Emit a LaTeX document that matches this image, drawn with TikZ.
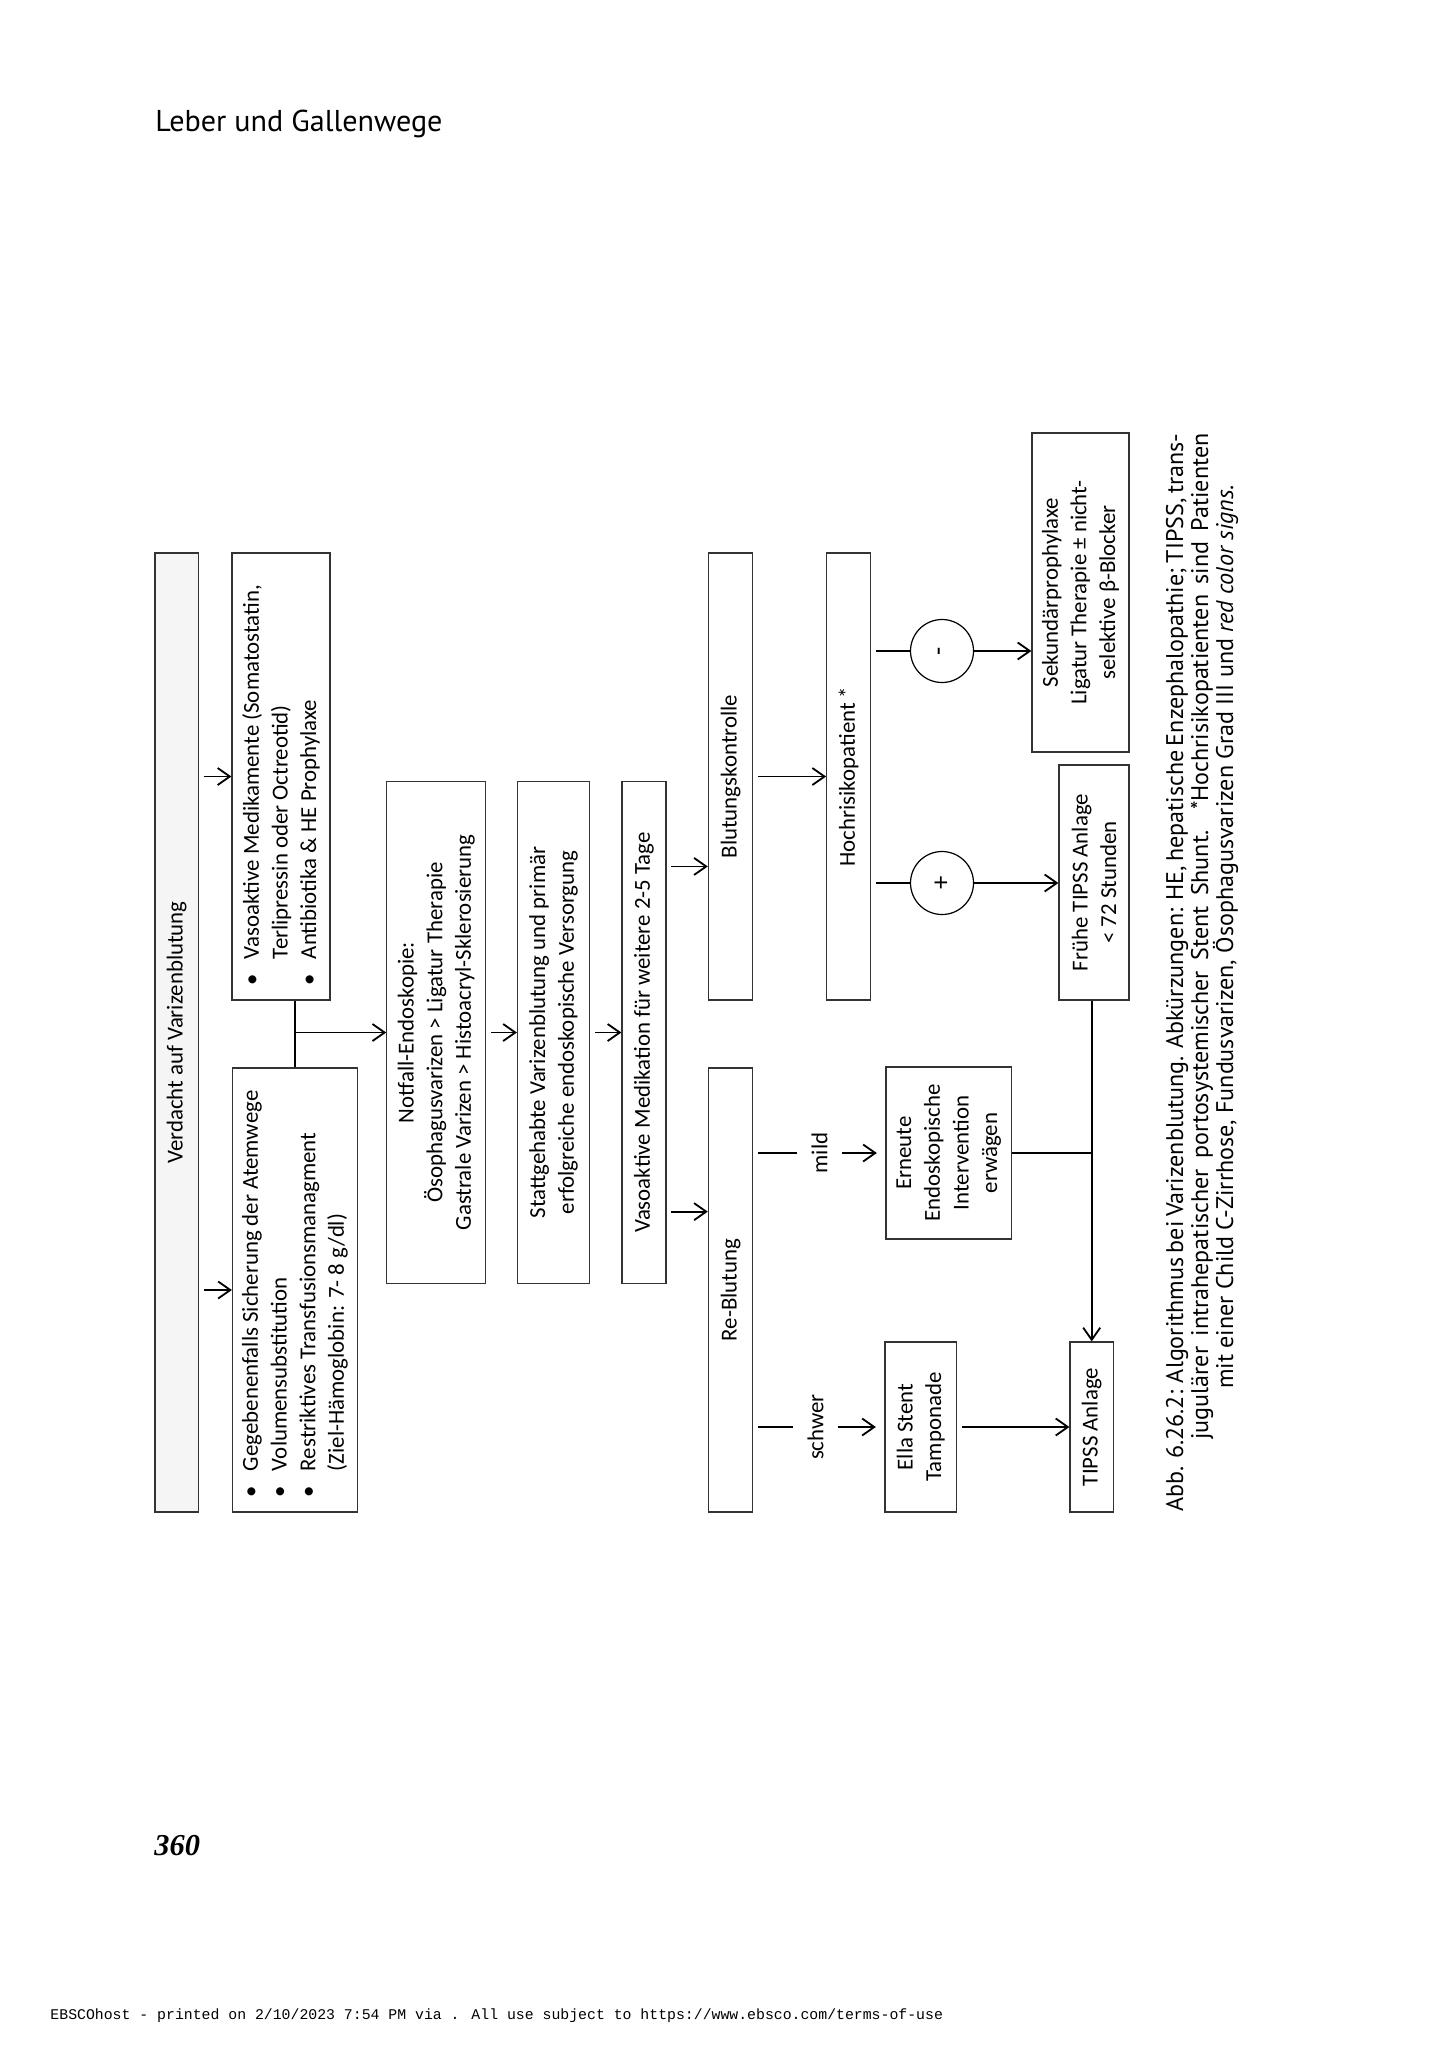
\documentclass[tikz,border=0pt]{standalone}
\usepackage{fontspec}
\usetikzlibrary{arrows.meta,calc}
\newfontfamily\diafont{Carlito}
\newfontfamily\headfont{PT Sans}
\newfontfamily\footfont{Liberation Mono}
\newfontfamily\pgfont{Liberation Serif}
\newlength\dpx
\setlength\dpx{0.4115pt}
\newcommand\bitem[1]{\makebox[26\dpx][l]{\textbullet}\mbox{#1}}
\newcommand\bcont[1]{\hspace*{26\dpx}\mbox{#1}}

\begin{document}
\begin{tikzpicture}[x=0.4115pt, y=-0.4115pt,
    box/.style={draw=black!80, line width=0.5pt, inner sep=0pt, align=center,
      font=\diafont\fontsize{9.4}{11.8}\selectfont},
    blist/.style={box, align=flush left, inner xsep=15\dpx},
    circ/.style={draw, circle, line width=0.5pt, inner sep=0pt, minimum size=63\dpx,
      font=\diafont\fontsize{11}{13}\selectfont},
    lbl/.style={inner xsep=0pt, inner ysep=14\dpx, font=\diafont\fontsize{9.4}{11.8}\selectfont},
    capt/.style={inner sep=0pt, font=\headfont\fontsize{9.9}{12}\selectfont},
    line/.style={line width=0.75pt},
    gap/.style={shorten <=2pt},
    arr/.style={line, -{Straight Barb[length=5pt,width=7pt]}}]
  \path[fill=white] (0,0) rectangle (1452,2050);
  \node[anchor=base west, inner sep=0pt, font=\headfont\fontsize{12.4}{15}\selectfont] (kopf) at (155,131.7) {Leber und Gallenwege};
  \node[anchor=base west, inner sep=0pt, font=\pgfont\bfseries\itshape\fontsize{12.5}{15}\selectfont] (seite) at (154,1855) {360};
  \node[anchor=base west, inner sep=0pt, font=\footfont\fontsize{6.1}{7}\selectfont] (fuss) at (50,2019) {EBSCOhost - printed on 2/10/2023 7:54 PM via . All use subject to https://www.ebsco.com/terms-of-use};

  \begin{scope}[shift={(155,1512)}, rotate=90, transform shape]
    \node[box, fill=black!4, minimum width=959\dpx, minimum height=43.5\dpx] (verdacht) at (479.5,21.75) {Verdacht auf Varizenblutung};
    \node[blist, text width=414\dpx, minimum width=444\dpx, minimum height=125\dpx] (gege) at (222,140) {\bitem{Gegebenenfalls Sicherung der Atemwege}\\ \bitem{Volumensubstitution}\\ \bitem{Restriktives Transfusionsmanagment}\\ \bcont{(Ziel-Hämoglobin: 7- 8 g/dl)}};
    \node[blist, text width=417\dpx, minimum width=447\dpx, minimum height=98\dpx] (vaso) at (735.5,126) {\bitem{Vasoaktive Medikamente (Somatostatin,}\\ \bcont{Terlipressin oder Octreotid)}\\ \bitem{Antibiotika \& HE Prophylaxe}};
    \node[box, minimum width=502\dpx, minimum height=99\dpx] (notfall) at (479.5,281.3) {Notfall-Endoskopie:\\ Ösophagusvarizen > Ligatur Therapie\\ Gastrale Varizen > Histoacryl-Sklerosierung};
    \node[box, minimum width=502\dpx, minimum height=72\dpx] (statt) at (479.5,398.5) {Stattgehabte Varizenblutung und primär\\ erfolgreiche endoskopische Versorgung};
    \node[box, minimum width=502\dpx, minimum height=44\dpx] (vasomed) at (479.5,489) {Vasoaktive Medikation für weitere 2-5 Tage};
    \node[box, minimum width=447\dpx, minimum height=44.4\dpx] (blutk) at (735.5,575.6) {Blutungskontrolle};
    \node[box, minimum width=444\dpx, minimum height=44.4\dpx] (reblut) at (222,575.6) {Re-Blutung};
    \node[box, minimum width=447\dpx, minimum height=44\dpx] (hochr) at (735.5,693.7) {Hochrisikopatient *};
    \node[circ] (minus) at (861,787) {-};
    \node[circ] (plus) at (629,787) {+};
    \node[box, minimum width=319\dpx, minimum height=97\dpx] (sek) at (919.5,925.5) {Sekundärprophylaxe\\ Ligatur Therapie ± nicht-\\ selektive β-Blocker};
    \node[box, minimum width=235\dpx, minimum height=70\dpx] (frueh) at (629.5,939) {Frühe TIPSS Anlage\\ < 72 Stunden};
    \node[box, minimum width=170\dpx, minimum height=43.3\dpx] (tipss) at (85,936.7) {TIPSS Anlage};
    \node[box, minimum width=170\dpx, minimum height=71.7\dpx] (ella) at (85,765.8) {Ella Stent\\ Tamponade};
    \node[box, minimum width=172\dpx, minimum height=125.7\dpx] (erneut) at (359,793.8) {Erneute\\ Endoskopische\\ Intervention\\ erwägen};
    \node[lbl] (mild) at (359,664.4) {mild};
    \node[lbl] (schwer) at (85,660.4) {schwer};

    \draw[arr, gap] (gege.north |- verdacht.south) -- (gege.north);
    \draw[arr, gap] (vaso.north |- verdacht.south) -- (vaso.north);
    \draw[line] (gege.east) -- (vaso.west |- gege.east);
    \draw[arr] (notfall.north |- gege.east) -- (notfall.north);
    \draw[arr, gap] (notfall.south) -- (statt.north);
    \draw[arr, gap] (statt.south) -- (vasomed.north);
    \draw[arr, gap] ($(vasomed.south west)!.144!(vasomed.south east)$) coordinate (rb) -- (rb |- reblut.north);
    \draw[arr, gap] ($(vasomed.south west)!.83!(vasomed.south east)$) coordinate (bk) -- (bk |- blutk.north);
    \draw[arr, gap] (blutk.south) -- (hochr.north);
    \draw[line, gap] (minus |- hochr.south) -- (minus);
    \draw[arr] (minus) -- (minus |- sek.north);
    \draw[line, gap] (plus |- hochr.south) -- (plus);
    \draw[arr] (plus) -- (plus |- frueh.north);
    \draw[line, gap] (mild |- reblut.south) -- (mild);
    \draw[arr, shorten >=3.5pt] (mild) -- (mild |- erneut.north);
    \draw[line, gap] (schwer |- reblut.south) -- (schwer);
    \draw[arr, shorten >=3.5pt] (schwer) -- (schwer |- ella.north);
    \draw[arr, gap] (ella.south) -- (tipss.north);
    \draw[arr] (frueh.west |- tipss.east) -- (tipss.east);
    \draw[line] (erneut.south) -- (erneut.south |- tipss.east);

    \node[capt, anchor=base west] (cap1) at (0,1028) {\makebox[1078\dpx][s]{Abb. 6.26.2: Algorithmus bei Varizenblutung. Abkürzungen: HE, hepatische Enzephalopathie; TIPSS, trans-}};
    \node[capt, anchor=base west] (cap2) at (72,1053) {\makebox[1006\dpx][s]{jugulärer intrahepatischer portosystemischer Stent Shunt. *Hochrisikopatienten sind Patienten}};
    \node[capt, anchor=base] (cap3) at (575,1078) {mit einer Child C-Zirrhose, Fundusvarizen, Ösophagusvarizen Grad III und \textit{red color signs}.};
  \end{scope}
\end{tikzpicture}
\end{document}
